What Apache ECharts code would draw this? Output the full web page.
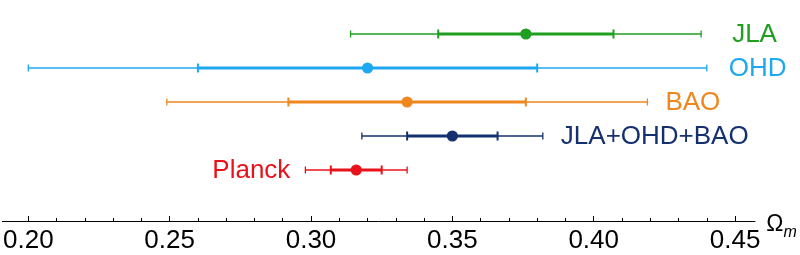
<!DOCTYPE html>
<html>
<head>
<meta charset="utf-8">
<script src="https://cdn.jsdelivr.net/npm/echarts@6/dist/echarts.min.js"></script>
<style>
html,body{margin:0;padding:0;background:#fff;}
#chart{width:800px;height:255px;}
</style>
</head>
<body>
<div id="chart"></div>
<script>
// ---- data ----
const names   = ['JLA', 'OHD', 'BAO', 'JLA+OHD+BAO', 'Planck'];
const centers = [0.376, 0.320, 0.334, 0.350, 0.316];
const err1    = [0.031, 0.060, 0.042, 0.016, 0.009];   // 1-sigma half width
const err2    = [0.062, 0.120, 0.085, 0.032, 0.018];   // 2-sigma half width
const rows    = [5, 4, 3, 2, 1];                         // vertical slot
const majorTicks = [0.20, 0.25, 0.30, 0.35, 0.40, 0.45];
const tickLabels = ['0.20', '0.25', '0.30', '0.35', '0.40', '0.45'];
const minorTicks = [0.20,0.21,0.22,0.23,0.24,0.25,0.26,0.27,0.28,0.29,0.30,0.31,0.32,0.33,0.34,0.35,0.36,0.37,0.38,0.39,0.40,0.41,0.42,0.43,0.44,0.45];

// ---- style ----
const colors    = ['#1f9e1f', '#1ea8ef', '#f0861e', '#15306e', '#e8121a'];
const labelSide = ['right', 'right', 'right', 'right', 'left'];
const labelGap  = [31, 22, 18, 18, 15];
const FONT = '"Liberation Sans", Arial, Helvetica, sans-serif';

const seriesData = names.map((n, i) => [centers[i], rows[i], err1[i], err2[i], i]);

function renderItem(params, api) {
  const c = api.value(0), y = api.value(1), e1 = api.value(2), e2 = api.value(3);
  const i = api.value(4);
  const col = colors[i];
  const pc = api.coord([c, y]);
  const l2 = api.coord([c - e2, y])[0], r2 = api.coord([c + e2, y])[0];
  const l1 = api.coord([c - e1, y])[0], r1 = api.coord([c + e1, y])[0];
  const yy = pc[1];
  const thin = {stroke: col, lineWidth: 1.3};
  const thick = {stroke: col, lineWidth: 3};
  const children = [
    {type: 'line', shape: {x1: l2, y1: yy, x2: r2, y2: yy}, style: thin},
    {type: 'line', shape: {x1: l2, y1: yy - 3.5, x2: l2, y2: yy + 3.5}, style: thin},
    {type: 'line', shape: {x1: r2, y1: yy - 3.5, x2: r2, y2: yy + 3.5}, style: thin},
    {type: 'line', shape: {x1: l1, y1: yy, x2: r1, y2: yy}, style: thick},
    {type: 'line', shape: {x1: l1, y1: yy - 4.5, x2: l1, y2: yy + 4.5}, style: {stroke: col, lineWidth: 2}},
    {type: 'line', shape: {x1: r1, y1: yy - 4.5, x2: r1, y2: yy + 4.5}, style: {stroke: col, lineWidth: 2}},
    {type: 'circle', shape: {cx: pc[0], cy: yy, r: 5.6}, style: {fill: col}}
  ];
  const right = labelSide[i] === 'right';
  children.push({
    type: 'text',
    style: {
      x: right ? r2 + labelGap[i] : l2 - labelGap[i],
      y: yy + 1,
      text: names[i],
      fill: col,
      font: '26px ' + FONT,
      align: right ? 'left' : 'right',
      verticalAlign: 'middle'
    }
  });
  return {type: 'group', children: children};
}

const chart = echarts.init(document.getElementById('chart'), null, {renderer: 'canvas'});
const xmin = 0.20 - 26 / 2836;
const xmax = 0.20 + 729 / 2836;
chart.setOption({
  animation: false,
  backgroundColor: '#fff',
  grid: {left: 0, right: 45, top: 17, bottom: 34, containLabel: false},
  xAxis: [{
    type: 'value', min: xmin, max: xmax, position: 'bottom',
    axisLine: {show: true, onZero: false, lineStyle: {color: '#000', width: 1}},
    axisTick: {show: true, inside: true, length: 5, customValues: majorTicks, lineStyle: {color: '#000', width: 1}},
    axisLabel: {show: true, customValues: majorTicks, margin: 7, color: '#000', fontSize: 26, fontFamily: FONT,
      formatter: v => tickLabels[majorTicks.findIndex(t => Math.abs(t - v) < 1e-9)] || ''},
    splitLine: {show: false},
    name: '{o|Ω}{m|m}',
    nameLocation: 'end',
    nameGap: 2,
    nameTextStyle: {
      padding: [12, 0, 0, 0],
      rich: {
        o: {fontSize: 23, fontFamily: FONT, color: '#000', padding: [0, 0, 4, 0]},
        m: {fontSize: 16, fontFamily: FONT, fontStyle: 'italic', color: '#000', verticalAlign: 'bottom'}
      }
    }
  }, {
    type: 'value', min: xmin, max: xmax, position: 'bottom', offset: 0,
    axisLine: {show: false, onZero: false},
    axisTick: {show: true, inside: true, length: 3, customValues: minorTicks, lineStyle: {color: '#000', width: 1}},
    axisLabel: {show: false},
    splitLine: {show: false}
  }],
  yAxis: {type: 'value', min: -0.5, max: 5.5, show: false, splitLine: {show: false}},
  series: [{
    type: 'custom',
    xAxisIndex: 0, yAxisIndex: 0,
    renderItem: renderItem,
    data: seriesData,
    clip: false
  }]
});
</script>
</body>
</html>
